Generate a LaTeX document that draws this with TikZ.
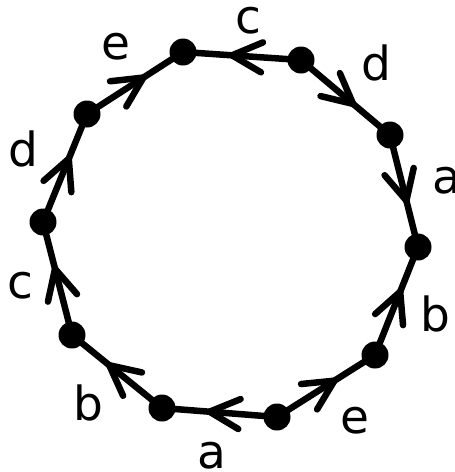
\documentclass[tikz,border=0pt]{standalone}
\usepackage{fontspec}
\setmainfont{DejaVu Sans}
\usetikzlibrary{decorations.markings}
\tikzset{
  dot/.style={circle,fill=black,inner sep=0pt,minimum size=27pt},
  lbl/.style={inner sep=0pt,font=\fontsize{47}{50}\selectfont},
  edge/.style={line width=6.5pt,line cap=round,
    postaction={decorate,decoration={markings,mark=at position 0.5 with {
      \draw[line width=6.5pt,line cap=round,line join=round] (-20pt,15pt) -- (10pt,0pt) -- (-20pt,-15pt);}}}}
}
\begin{document}
\begin{tikzpicture}[x=1pt,y=-1pt]
\useasboundingbox (0,0) rectangle (455,472);
\coordinate (p1) at (183,52);
\coordinate (p2) at (301,60);
\coordinate (p3) at (390,135);
\coordinate (p4) at (418,247);
\coordinate (p5) at (375,355);
\coordinate (p6) at (277,417);
\coordinate (p7) at (162,408);
\coordinate (p8) at (72,335);
\coordinate (p9) at (43,222);
\coordinate (p10) at (87,114);
\draw[edge] (p2) -- (p1);
\draw[edge] (p2) -- (p3);
\draw[edge] (p3) -- (p4);
\draw[edge] (p5) -- (p4);
\draw[edge] (p6) -- (p5);
\draw[edge] (p6) -- (p7);
\draw[edge] (p7) -- (p8);
\draw[edge] (p8) -- (p9);
\draw[edge] (p9) -- (p10);
\draw[edge] (p10) -- (p1);
\foreach \i in {1,...,10} \node[dot] (v\i) at (p\i) {};
\node[lbl] (l1) at (248,21) {c};
\node[lbl] (l2) at (376,63) {d};
\node[lbl] (l3) at (447,181) {a};
\node[lbl] (l4) at (435,314) {b};
\node[lbl] (l5) at (355,421) {e};
\node[lbl] (l6) at (212,456) {a};
\node[lbl] (l7) at (88,403) {b};
\node[lbl] (l8) at (20,286) {c};
\node[lbl] (l9) at (23,149) {d};
\node[lbl] (l10) at (116,47) {e};
\end{tikzpicture}
\end{document}
